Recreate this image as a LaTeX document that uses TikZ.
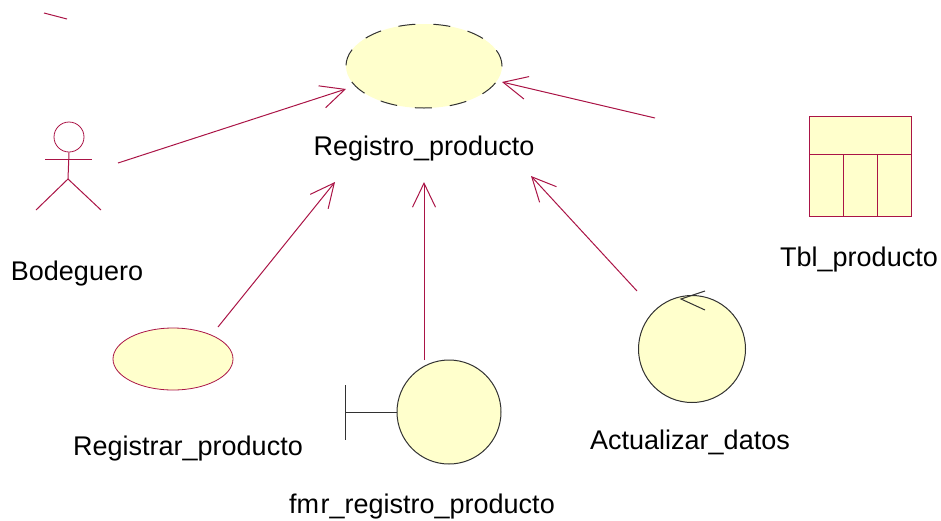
\documentclass[tikz,border=0pt]{standalone}
\usepackage{fontspec}
\setmainfont{Liberation Sans}
\usetikzlibrary{arrows.meta,shapes.geometric}
\definecolor{crim}{RGB}{170,20,70}
\definecolor{fillc}{RGB}{255,255,204}
\definecolor{ink}{RGB}{50,50,50}
\tikzset{
  lbl/.style={inner sep=0pt,font=\fontsize{27}{32}\selectfont,text=black,anchor=base},
  assoc/.style={draw=crim,line width=1pt,-{Straight Barb[length=24pt,width=23pt,line width=1pt]}},
  crimline/.style={draw=crim,line width=1pt},
  inkline/.style={draw=ink,line width=1pt},
  classel/.style={ellipse,inner sep=0pt,fill=fillc,minimum width=120pt,minimum height=62pt,draw=crim,line width=.8pt},
  roundobj/.style={circle,inner sep=0pt,fill=fillc,draw=ink,line width=1pt}
}
\begin{document}
\begin{tikzpicture}[x=1pt,y=-1pt]
\useasboundingbox (0,0) rectangle (941,520);
% collaboration
\node[ellipse,inner sep=0pt,fill=fillc,minimum width=156pt,minimum height=84pt,draw=ink,line width=1pt,dash pattern=on 17pt off 18pt] (reg) at (424,66) {};
\node[lbl] (reglbl) at (424,155) {Registro\_producto};
% stray mark
\coordinate (s1) at (44,13); \coordinate (s2) at (67,19);
\draw[crimline] (s1) -- (s2);
% actor
\node[circle,draw=crim,line width=.8pt,minimum size=30pt,inner sep=0pt] (head) at (69,137) {};
\coordinate (arml) at (45,159); \coordinate (armr) at (92,159);
\coordinate (hip) at (68,179); \coordinate (legl) at (36,210); \coordinate (legr) at (101,210);
\draw[crimline] (arml) -- (armr);
\draw[crimline] (head.south) -- (hip);
\draw[crimline] (legl) -- (hip) -- (legr);
\node[lbl] (actlbl) at (77,280) {Bodeguero};
% use-case ellipse
\node[classel] (uc) at (173,359) {};
\node[lbl] (uclbl) at (188,455) {Registrar\_producto};
% boundary
\node[roundobj,minimum size=104pt] (bnd) at (449,412) {};
\coordinate (bt) at (345,385); \coordinate (bb) at (345,440); \coordinate (bm) at (345,412);
\draw[inkline] (bt) -- (bb);
\draw[inkline] (bm) -- (bnd.west);
\node[lbl] (bndlbl) at (422,513) {fm\kern1.5pt r\_registro\_producto};
% control
\node[roundobj,minimum size=107pt] (ctl) at (692,349) {};
\coordinate (ca) at (681,299); \coordinate (c1) at (705,291); \coordinate (c2) at (705,310);
\draw[inkline] (c1) -- (ca) -- (c2);
\node[lbl] (ctllbl) at (690,449) {Actualizar\_datos};
% table
\node[rectangle,draw=crim,fill=fillc,line width=1pt,minimum width=102pt,minimum height=100pt,inner sep=0pt] (tbl) at (860,166) {};
\coordinate (tl) at (809,154); \coordinate (tr) at (911,154);
\coordinate (v1t) at (843,154); \coordinate (v1b) at (843,217);
\coordinate (v2t) at (877,154); \coordinate (v2b) at (877,217);
\draw[crimline] (tl) -- (tr);
\draw[crimline] (v1t) -- (v1b);
\draw[crimline] (v2t) -- (v2b);
\node[lbl] (tbllbl) at (859,266) {Tbl\_producto};
% connectors
\coordinate (a1s) at (118,163); \coordinate (a1e) at (346,89);
\coordinate (a2s) at (218,327); \coordinate (a2e) at (335,182);
\coordinate (a3s) at (424,360); \coordinate (a3e) at (424,182);
\coordinate (a4s) at (637,291); \coordinate (a4e) at (531,176);
\coordinate (a5s) at (655,118); \coordinate (a5e) at (502,82);
\draw[assoc] (a1s) -- (a1e);
\draw[assoc] (a2s) -- (a2e);
\draw[assoc] (a3s) -- (a3e);
\draw[assoc] (a4s) -- (a4e);
\draw[assoc] (a5s) -- (a5e);
\end{tikzpicture}
\end{document}
